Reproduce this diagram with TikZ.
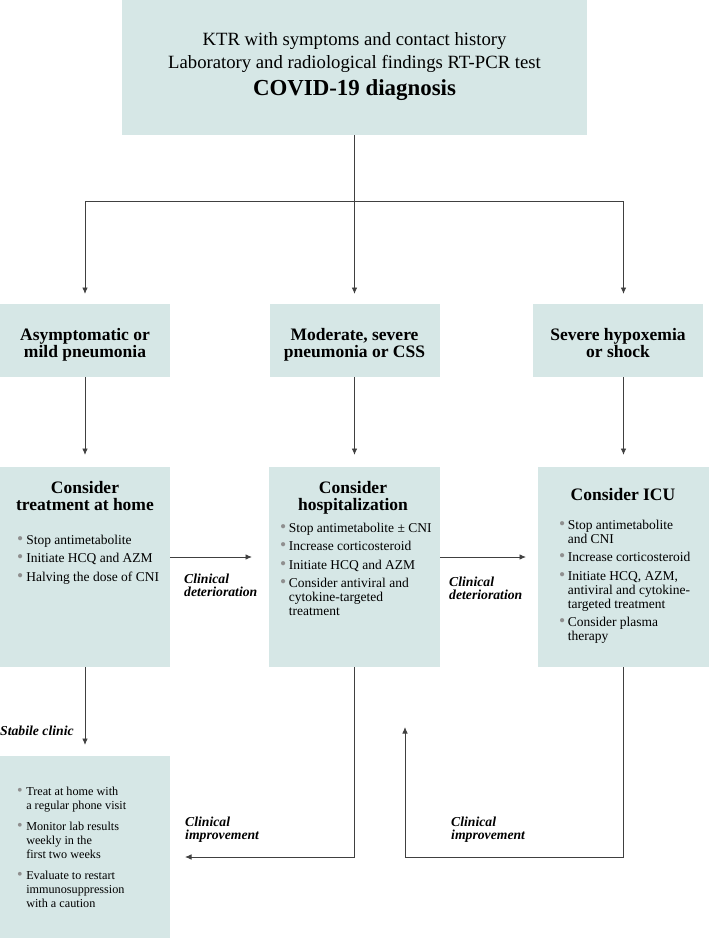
\documentclass[tikz,border=0pt]{standalone}
\usepackage{fontspec}
\setmainfont{Liberation Serif}
\usetikzlibrary{calc,arrows.meta}
\newlength{\du}
\setlength{\du}{1pt}
\definecolor{boxcolor}{rgb}{0.839216, 0.905882, 0.901961}
\definecolor{flowcolor}{rgb}{0.250000, 0.250000, 0.250000}
\definecolor{dotcolor}{rgb}{0.560000, 0.560000, 0.560000}
\newcommand{\dotitem}{\textcolor{dotcolor}{\raisebox{-0.4\du}{\scalebox{1.3}{\textbullet}}}}

\begin{document}
\begin{tikzpicture}[
  box/.style={fill=boxcolor, inner sep=0pt, outer sep=0pt},
  flow/.style={draw=flowcolor, line width=0.9\du},
  arrow/.style={flow, -{Latex[length=6.5pt,width=5.5pt]}},
  title/.style={inner sep=0pt, anchor=base, font=\fontsize{17.5}{17}\selectfont\bfseries},
  list/.style={inner sep=0pt, anchor=base west, font=\fontsize{13.5}{14}\selectfont},
  note/.style={inner sep=0pt, anchor=base west, font=\fontsize{13.7}{13}\selectfont\bfseries\itshape}]
\pgftransformxscale{1.000000}
\pgftransformyscale{-1.000000}
\useasboundingbox (0\du,0\du) rectangle (709\du,938\du);
% boxes
\node[box, minimum width=465\du, minimum height=135\du] (diag) at (354.5\du,67.5\du) {};
\node[box, minimum width=170\du, minimum height=73\du] (mild) at (85\du,340.5\du) {};
\node[box, minimum width=170\du, minimum height=73\du] (moder) at (354.5\du,340.5\du) {};
\node[box, minimum width=170\du, minimum height=73\du] (severe) at (618\du,340.5\du) {};
\node[box, minimum width=170\du, minimum height=200\du] (home) at (85\du,567\du) {};
\node[box, minimum width=171\du, minimum height=200\du] (hosp) at (354.5\du,567\du) {};
\node[box, minimum width=171\du, minimum height=200\du] (icu) at (623.5\du,567\du) {};
\node[box, minimum width=170\du, minimum height=182\du] (stable) at (85\du,847\du) {};
% top text
\node[inner sep=0pt, anchor=base, font=\fontsize{18.7}{23}\selectfont] (diagtext) at (354.5\du,45.5\du)
  {\begin{tabular}[t]{@{}c@{}}KTR with symptoms and contact history\\ Laboratory and radiological findings RT-PCR test\\[3.5\du]
   {\fontsize{22.9}{23}\selectfont\bfseries COVID-19 diagnosis}\end{tabular}};
% severity
\node[title] (mildtext) at (85\du,340\du) {\begin{tabular}[t]{@{}c@{}}Asymptomatic or\\ mild pneumonia\end{tabular}};
\node[title] (modertext) at (354.5\du,340\du) {\begin{tabular}[t]{@{}c@{}}Moderate, severe\\ pneumonia or CSS\end{tabular}};
\node[title] (severetext) at (618\du,340\du) {\begin{tabular}[t]{@{}c@{}}Severe hypoxemia\\ or shock\end{tabular}};
% treatment
\node[title] (hometext) at (85\du,493\du) {\begin{tabular}[t]{@{}c@{}}Consider\\ treatment at home\end{tabular}};
\node[title] (hosptext) at (353\du,493\du) {\begin{tabular}[t]{@{}c@{}}Consider\\ hospitalization\end{tabular}};
\node[title] (icutext) at (623\du,500.5\du) {Consider ICU};
\node[list] (homelist) at (17\du,544\du) {\begin{tabular}[t]{@{}l@{\hspace{3\du}}l@{}}
  \dotitem & Stop antimetabolite\\[4.5\du]
  \dotitem & Initiate HCQ and AZM\\[4.5\du]
  \dotitem & Halving the dose of CNI\end{tabular}};
\node[list] (hosplist) at (280\du,532\du) {\begin{tabular}[t]{@{}l@{\hspace{2.5\du}}l@{}}
  \dotitem & Stop antimetabolite ± CNI\\[4.5\du]
  \dotitem & Increase corticosteroid\\[4.5\du]
  \dotitem & Initiate HCQ and AZM\\[4.5\du]
  \dotitem & Consider antiviral and\\ & cytokine-targeted\\ & treatment\end{tabular}};
\node[list] (iculist) at (559\du,529\du) {\begin{tabular}[t]{@{}l@{\hspace{2.5\du}}l@{}}
  \dotitem & Stop antimetabolite\\ & and CNI\\[4.5\du]
  \dotitem & Increase corticosteroid\\[4.5\du]
  \dotitem & Initiate HCQ, AZM,\\ & antiviral and cytokine-\\ & targeted treatment\\[4.5\du]
  \dotitem & Consider plasma\\ & therapy\end{tabular}};
\node[list, font=\fontsize{12.2}{14}\selectfont] (stablelist) at (17\du,795\du) {\begin{tabular}[t]{@{}l@{\hspace{3.5\du}}l@{}}
  \dotitem & Treat at home with\\ & a regular phone visit\\[7\du]
  \dotitem & Monitor lab results\\ & weekly in the\\ & first two weeks\\[7\du]
  \dotitem & Evaluate to restart\\ & immunosuppression\\ & with a caution\end{tabular}};
% connectors
\coordinate (fork) at (354.5\du,201\du);
\draw[flow] (diag.south) -- (fork);
\draw[arrow, shorten >=10pt] (fork) -| (mild.north);
\draw[arrow, shorten >=10pt] (fork) -- (moder.north);
\draw[arrow, shorten >=10pt] (fork) -| (icu.north |- severe.north);
\draw[arrow, shorten >=12pt] (mild.south) -- (home.north);
\draw[arrow, shorten >=12pt] (moder.south) -- (hosp.north);
\draw[arrow, shorten >=12pt] (icu.north |- severe.south) -- (icu.north);
\coordinate (worse) at (0\du,557\du);
\draw[arrow, shorten >=17pt] (home.east |- worse) -- (hosp.west |- worse);
\draw[arrow, shorten >=12pt] (hosp.east |- worse) -- (icu.west |- worse);
\draw[arrow, shorten >=11pt] (home.south) -- (stable.north);
\coordinate (better) at (0\du,857\du);
\draw[arrow, shorten >=15pt] (hosp.south) |- (stable.east |- better);
\coordinate (back) at (405\du,857\du);
\draw[arrow, shorten >=60pt] (icu.south) |- (back) -- (back |- hosp.south);
% setfont left to latex
\node[note] (detlabel1) at (184\du,583\du) {\begin{tabular}[t]{@{}l@{}}Clinical\\ deterioration\end{tabular}};
\node[note] (detlabel2) at (449\du,586\du) {\begin{tabular}[t]{@{}l@{}}Clinical\\ deterioration\end{tabular}};
\node[note] (stablabel) at (0\du,735\du) {Stabile clinic};
\node[note] (implabel1) at (185\du,826\du) {\begin{tabular}[t]{@{}l@{}}Clinical\\ improvement\end{tabular}};
\node[note] (implabel2) at (451\du,826\du) {\begin{tabular}[t]{@{}l@{}}Clinical\\ improvement\end{tabular}};
\end{tikzpicture}
\end{document}
